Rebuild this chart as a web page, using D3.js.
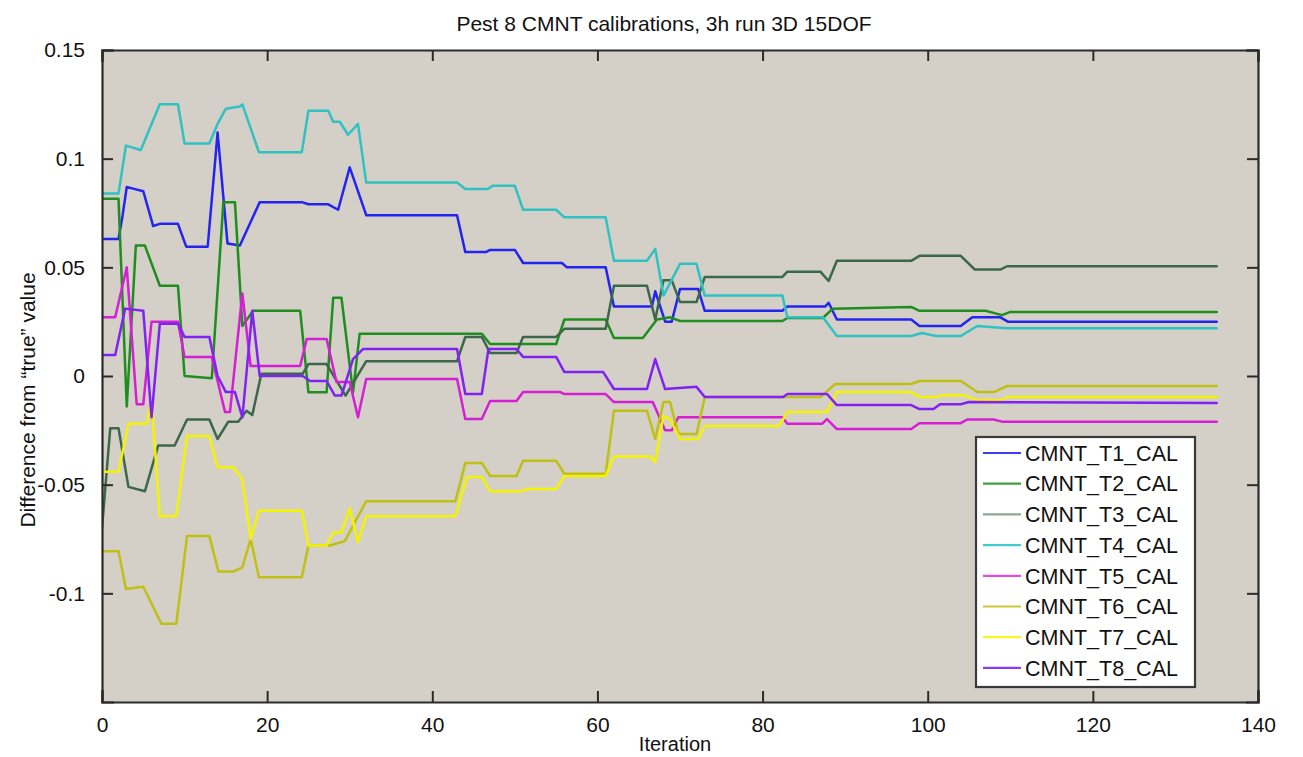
<!DOCTYPE html>
<html>
<head>
<meta charset="utf-8">
<script src="https://cdn.jsdelivr.net/npm/d3@7/dist/d3.min.js"></script>
<style>
  html, body { margin: 0; padding: 0; background: #ffffff; }
  svg { display: block; }
  text { font-family: "Liberation Sans", Arial, Helvetica, sans-serif; fill: #111; }
</style>
</head>
<body>
<svg id="chart" width="1303" height="757"></svg>
<script>
// Calibration parameter traces: [iteration, difference from "true" value]
const seriesNames = ["CMNT_T1_CAL", "CMNT_T2_CAL", "CMNT_T3_CAL", "CMNT_T4_CAL",
                     "CMNT_T5_CAL", "CMNT_T6_CAL", "CMNT_T7_CAL", "CMNT_T8_CAL"];

const t1 = [[0,0.063],[2,0.063],[2.5,0.074],[3,0.087],[4,0.086],[5,0.085],[6.2,0.069],[7,0.070],[9.2,0.070],
  [10.2,0.0595],[12.8,0.0595],[14,0.112],[15.2,0.061],[16.7,0.060],[19.1,0.080],[24.2,0.080],[25,0.079],
  [27.4,0.079],[28.6,0.0765],[30,0.096],[32,0.074],[43,0.074],[44,0.057],[46.5,0.057],[47,0.058],[50,0.058],
  [51,0.052],[55.7,0.052],[56.3,0.050],[61,0.050],[62,0.032],[66.6,0.032],[67,0.039],[68.2,0.025],[69,0.025],
  [70,0.040],[72.2,0.040],[73,0.030],[82.4,0.030],[83,0.032],[87.6,0.032],[88,0.0337],[89,0.026],[98,0.026],
  [99,0.023],[104,0.023],[105.4,0.027],[108.8,0.027],[109.7,0.025],[135,0.025]];

const t2 = [[0,0.0816],[2,0.0816],[3,-0.014],[4.1,0.060],[5.2,0.060],[7,0.0415],[9.2,0.0415],[10,0],
  [13.3,-0.001],[14.7,0.080],[16.1,0.080],[17,0.023],[18.3,0.030],[24,0.030],[25,-0.0075],[27.2,-0.0075],
  [28,0.036],[29,0.036],[30.4,-0.0075],[31.2,0.0194],[43,0.0194],[46,0.0194],[47,0.0147],[55,0.0147],
  [56,0.026],[61,0.026],[62,0.0175],[65.5,0.0175],[67.2,0.026],[68.8,0.027],[70,0.0253],[82.4,0.0253],
  [83,0.0267],[87.3,0.0267],[88.5,0.031],[98,0.0318],[99,0.030],[107,0.030],[109,0.028],[110,0.0295],[135,0.0295]];

const t3 = [[0,-0.07],[1,-0.024],[2,-0.024],[3.2,-0.051],[5.2,-0.053],[6.8,-0.032],[8.8,-0.032],[10.3,-0.020],
  [13,-0.020],[14,-0.029],[15.3,-0.021],[16.5,-0.021],[17.5,-0.016],[18.2,-0.018],[19.3,0.001],[24.3,0.001],
  [25,0.0055],[27.2,0.0055],[29.5,-0.009],[32,0.0068],[43,0.0068],[44,0.018],[46,0.018],[47,0.0106],
  [50.2,0.0106],[51,0.018],[55,0.018],[56,0.0217],[61,0.0217],[62,0.0415],[66,0.0415],[67,0.026],[68,0.044],
  [69,0.044],[70,0.034],[72,0.034],[73,0.0456],[82.4,0.0456],[83,0.048],[87,0.048],[88,0.0437],[89,0.053],
  [98,0.053],[99,0.0553],[104,0.0553],[105.7,0.049],[108.8,0.049],[109.6,0.0505],[135,0.0505]];

const t4 = [[0,0.084],[2,0.084],[2.9,0.106],[4.7,0.104],[7,0.125],[9.2,0.125],[10,0.107],[13,0.107],[14,0.116],
  [15,0.123],[16.7,0.124],[17,0.125],[19,0.103],[24.2,0.103],[25,0.122],[27.4,0.122],[28,0.117],[28.8,0.117],
  [29.8,0.111],[31,0.116],[32,0.089],[43,0.089],[44,0.086],[46.7,0.086],[47.3,0.0875],[50,0.0875],[51,0.0765],
  [55,0.0765],[56,0.073],[61,0.073],[62,0.053],[66,0.053],[67,0.0585],[68,0.037],[70,0.0516],[72,0.0516],
  [73,0.037],[82.4,0.037],[83,0.027],[87.3,0.027],[89,0.0184],[98,0.0184],[99.3,0.0198],[101,0.0184],
  [104,0.0184],[106,0.023],[109.6,0.022],[135,0.022]];

const t5 = [[0,0.027],[1.6,0.027],[3,0.050],[4.2,-0.013],[5,-0.013],[6,0.025],[9.2,0.025],[10,0.0088],
  [13.3,0.0088],[14.9,-0.0166],[15.5,-0.0166],[17,0.038],[18,0.0046],[24,0.0046],[24.8,0.017],[27.2,0.017],
  [28.4,-0.0028],[30,-0.0028],[31,-0.019],[32,-0.0014],[43,-0.0014],[44,-0.0198],[46,-0.0198],[47,-0.0115],
  [50.2,-0.0115],[51,-0.0074],[55.5,-0.0074],[56,-0.0083],[61,-0.0083],[62,-0.012],[66.7,-0.012],[68.2,-0.025],
  [69,-0.025],[69.8,-0.019],[82.4,-0.019],[83,-0.022],[87.2,-0.022],[87.8,-0.0198],[89,-0.0244],[98,-0.0244],
  [99,-0.0217],[104,-0.0217],[104.8,-0.020],[108,-0.020],[109,-0.021],[135,-0.021]];

const t6 = [[0,-0.0806],[2,-0.0806],[2.9,-0.098],[5,-0.097],[7.2,-0.114],[9,-0.114],[10.3,-0.0736],[13,-0.0736],
  [14.1,-0.090],[15.9,-0.090],[17,-0.088],[18,-0.075],[19,-0.0926],[24.2,-0.0926],[25,-0.078],[27.6,-0.078],
  [29.4,-0.076],[32,-0.0576],[42.8,-0.0576],[44,-0.040],[46,-0.040],[47,-0.046],[50.2,-0.046],[51,-0.039],
  [55,-0.039],[56,-0.045],[61,-0.045],[62,-0.016],[66,-0.016],[67,-0.029],[68,-0.012],[68.8,-0.012],
  [69.8,-0.0267],[72,-0.0267],[73,-0.0097],[87,-0.0097],[88.8,-0.0037],[98,-0.0037],[99,-0.0023],[104,-0.0023],
  [106,-0.0074],[108,-0.0074],[109.6,-0.0046],[135,-0.0046]];

const t7 = [[0,-0.044],[2,-0.044],[3.2,-0.022],[5.4,-0.022],[6,-0.011],[7,-0.0645],[9,-0.0645],[10.3,-0.0276],
  [13,-0.0276],[14,-0.042],[15.9,-0.042],[17,-0.0475],[18,-0.075],[19,-0.062],[24.2,-0.062],[25,-0.078],
  [27.2,-0.078],[28,-0.072],[29,-0.072],[30,-0.061],[31,-0.0765],[32,-0.0645],[42.8,-0.0645],[44.2,-0.0465],
  [46,-0.0465],[47,-0.053],[50.8,-0.053],[51.5,-0.052],[55,-0.052],[56,-0.046],[61,-0.046],[62,-0.037],
  [66.4,-0.037],[67,-0.0397],[68,-0.0184],[68.8,-0.020],[70,-0.029],[72.2,-0.029],[73,-0.023],[82,-0.023],
  [83,-0.0166],[87.8,-0.0166],[89,-0.0074],[98,-0.0074],[99,-0.0097],[101,-0.0097],[102,-0.0088],
  [104.3,-0.0088],[106,-0.011],[108.8,-0.011],[109.8,-0.0097],[135,-0.0097]];

const t8 = [[0,0.0097],[1.6,0.0097],[2.8,0.031],[5,0.030],[6,-0.019],[7,0.024],[9.2,0.024],[10,0.018],[13,0.018],
  [14,0],[15,-0.0074],[16.1,-0.0074],[17,-0.019],[18.2,0.030],[19.1,0],[24.3,0],[25.2,-0.0023],[27.2,-0.0023],
  [28.2,-0.009],[29,-0.009],[30.4,0.0078],[31.6,0.0124],[43,0.0124],[44,-0.0083],[46,-0.0083],[46.8,0.0124],
  [50.2,0.0124],[51,0.0088],[55,0.0088],[56,0.0018],[60.7,0.0018],[62,-0.006],[66,-0.006],[67,0.0078],
  [68.2,-0.006],[72,-0.005],[73,-0.0097],[82.5,-0.0097],[83,-0.0083],[87.8,-0.0083],[89,-0.0134],[98,-0.0134],
  [99,-0.0152],[100.7,-0.0152],[101.5,-0.013],[104,-0.013],[105,-0.012],[135,-0.0124]];

const seriesValues = [t1, t2, t3, t4, t5, t6, t7, t8];
const seriesColors = ["#2424f0", "#1f8e1f", "#3a6848", "#30c2c2", "#d41fd4", "#bfbf14", "#f4f400", "#8222f2"];
const legendColors = ["#3d3df2", "#3f9f3f", "#8fa697", "#3fcccc", "#de4fde", "#c8c83a", "#f8f820", "#8c3cf2"];

const xTicks = [0, 20, 40, 60, 80, 100, 120, 140];
const yTicks = [0.15, 0.1, 0.05, 0, -0.05, -0.1];
const yTickLabels = ["0.15", "0.1", "0.05", "0", "-0.05", "-0.1"];

const titleText = "Pest 8 CMNT calibrations, 3h run 3D 15DOF";
const xLabel = "Iteration";
const yLabel = "Difference from \u201Ctrue\u201D value";

// Layout
const plot = { left: 102, right: 1258, top: 50, bottom: 702 };
const svg = d3.select("#chart");

const x = d3.scaleLinear().domain([0, 140]).range([plot.left, plot.right]);
const y = d3.scaleLinear().domain([-0.15, 0.15]).range([plot.bottom, plot.top]);

// Axes background
svg.append("rect")
  .attr("x", plot.left).attr("y", plot.top)
  .attr("width", plot.right - plot.left).attr("height", plot.bottom - plot.top)
  .attr("fill", "#d4d0c8");

// Clip for data lines
svg.append("clipPath").attr("id", "plotClip")
  .append("rect")
  .attr("x", plot.left).attr("y", plot.top)
  .attr("width", plot.right - plot.left).attr("height", plot.bottom - plot.top);

const line = d3.line().x(d => x(d[0])).y(d => y(d[1]));

const linesG = svg.append("g").attr("clip-path", "url(#plotClip)");
seriesValues.forEach((vals, i) => {
  linesG.append("path")
    .datum(vals)
    .attr("d", line)
    .attr("fill", "none")
    .attr("stroke", seriesColors[i])
    .attr("stroke-width", 2.5)
    .attr("stroke-linejoin", "round")
    .attr("stroke-linecap", "round");
});

// Axes with inward ticks on all four sides (boxed)
const tickLen = 11;
const axisColor = "#2b2b2b";

const bottomAxis = d3.axisBottom(x).tickValues(xTicks).tickSize(-tickLen).tickPadding(tickLen + 6).tickFormat(d3.format("d"));
const topAxis = d3.axisTop(x).tickValues(xTicks).tickSize(-tickLen).tickFormat("");
const leftAxis = d3.axisLeft(y).tickValues(yTicks).tickSize(-tickLen).tickPadding(tickLen + 6)
  .tickFormat((d, i) => yTickLabels[i]);
const rightAxis = d3.axisRight(y).tickValues(yTicks).tickSize(-tickLen).tickFormat("");

function styleAxis(g) {
  g.select(".domain").attr("stroke", axisColor).attr("stroke-width", 2.2);
  g.selectAll(".tick line").attr("stroke", axisColor).attr("stroke-width", 2);
  g.selectAll(".tick text")
    .attr("fill", "#111")
    .style("font-family", "\"Liberation Sans\", Arial, sans-serif")
    .style("font-size", "21px");
}

svg.append("g").attr("transform", `translate(0,${plot.bottom})`).call(bottomAxis).call(styleAxis)
  .selectAll(".tick text").attr("dy", "0.6em");
svg.append("g").attr("transform", `translate(0,${plot.top})`).call(topAxis).call(styleAxis);
svg.append("g").attr("transform", `translate(${plot.left},0)`).call(leftAxis).call(styleAxis);
svg.append("g").attr("transform", `translate(${plot.right},0)`).call(rightAxis).call(styleAxis);

svg.selectAll(".domain").attr("stroke-linecap", "square");

// Title and axis labels
svg.append("text")
  .attr("x", 664).attr("y", 31)
  .attr("text-anchor", "middle")
  .style("font-size", "21px")
  .text(titleText);

svg.append("text")
  .attr("x", 675).attr("y", 751)
  .attr("text-anchor", "middle")
  .style("font-size", "20px")
  .text(xLabel);

svg.append("text")
  .attr("transform", "translate(35,400) rotate(-90)")
  .attr("text-anchor", "middle")
  .style("font-size", "21px")
  .text(yLabel);

// Legend
const legend = { x: 976, y: 437, w: 219, h: 250, firstRow: 453, rowGap: 30.7 };
const lg = svg.append("g");
lg.append("rect")
  .attr("x", legend.x).attr("y", legend.y)
  .attr("width", legend.w).attr("height", legend.h)
  .attr("fill", "#ffffff")
  .attr("stroke", "#3a3a3a")
  .attr("stroke-width", 2.2);

seriesNames.forEach((name, i) => {
  const cy = legend.firstRow + i * legend.rowGap;
  lg.append("line")
    .attr("x1", 983).attr("x2", 1021)
    .attr("y1", cy).attr("y2", cy)
    .attr("stroke", legendColors[i])
    .attr("stroke-width", 2.2);
  lg.append("text")
    .attr("x", 1025).attr("y", cy)
    .attr("dy", "0.36em")
    .style("font-size", "21.5px")
    .text(name);
});
</script>
</body>
</html>
